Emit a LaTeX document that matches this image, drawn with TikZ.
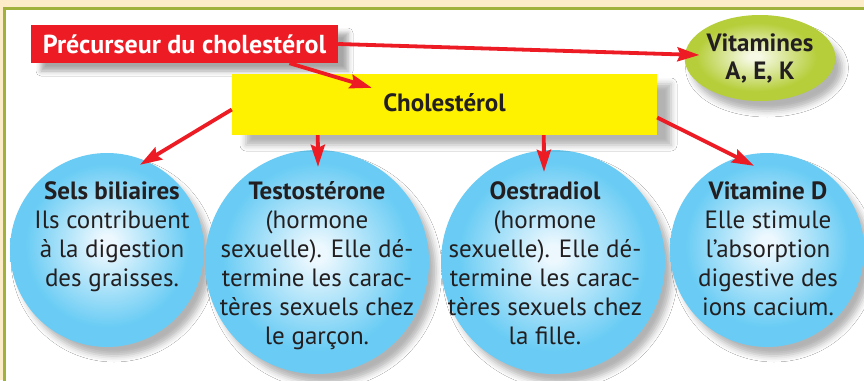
\documentclass[tikz,border=0pt]{standalone}
\usepackage{fontspec}
\setmainfont{PT Sans}
\usetikzlibrary{shapes.geometric,arrows.meta,calc,shadows.blur}
\definecolor{beigebg}{RGB}{253,236,200}
\definecolor{olivefr}{RGB}{160,178,60}
\definecolor{redc}{RGB}{237,28,36}
\definecolor{yellowc}{RGB}{255,242,0}
\definecolor{txtc}{RGB}{35,31,32}
\definecolor{bcen}{RGB}{236,248,254}
\definecolor{bedge}{RGB}{106,204,244}
\definecolor{gcen}{RGB}{246,249,228}
\definecolor{gedge}{RGB}{182,206,58}
\pgfdeclareradialshading{ballblue}{\pgfpoint{0bp}{2bp}}{color(0bp)=(bcen); color(2bp)=(bcen); color(21bp)=(bedge); color(50bp)=(bedge)}
\pgfdeclareradialshading{ballgreen}{\pgfpoint{-2bp}{1bp}}{color(0bp)=(gcen); color(2bp)=(gcen); color(20bp)=(gedge); color(50bp)=(gedge)}
\begin{document}
\begin{tikzpicture}[x=1pt,y=-1pt,
  txt/.style={font=\fontsize{25}{29}\selectfont, text=txtc, align=center, inner sep=0pt},
  boxshadow/.style={blur shadow={shadow xshift=10pt, shadow yshift=-8pt, shadow blur radius=5pt, shadow opacity=35}},
  ballshadow/.style={blur shadow={shadow xshift=7pt, shadow yshift=-9pt, shadow blur radius=6pt, shadow opacity=30}},
  ball/.style={circle, draw=none, shading=ballblue, ballshadow, inner sep=0pt},
  arr/.style={draw=redc, line width=3.8pt, -{Stealth[length=22pt,width=14pt,inset=3pt]}}]
\useasboundingbox (0,0) rectangle (864,380);
\fill[beigebg] (0,0) rectangle (864,380);
\draw[olivefr, fill=white, line width=2.5pt] (4.5,8.5) rectangle (880,400);

% balls
\node[ball, minimum size=194pt] (sels) at (107,250) {};
\node[ball, minimum size=224pt] (testo) at (317,262) {};
\node[ball, minimum size=224pt] (oestr) at (553,262) {};
\node[ball, minimum size=194pt] (vitd) at (767,250) {};

% boxes
\node[fill=redc, boxshadow, minimum width=307pt, minimum height=38pt, inner sep=0pt,
      text=white, font=\fontsize{26}{28}\selectfont\bfseries] (prec) at (184.5,44) {Précurseur du cholestérol};
\node[fill=yellowc, blur shadow={shadow xshift=14pt, shadow yshift=-10pt, shadow blur radius=6pt, shadow opacity=30},
      minimum width=425pt, minimum height=61pt, inner sep=0pt,
      text=txtc, font=\fontsize{25}{26}\selectfont\bfseries] (chol) at (444.5,104.5) {\raisebox{4pt}{Cholestérol}};
\node[ellipse, shading=ballgreen, blur shadow={shadow xshift=7pt, shadow yshift=-10pt, shadow blur radius=6pt, shadow opacity=30},
      minimum width=150pt, minimum height=86pt, inner sep=0pt, align=center,
      text=txtc, font=\fontsize{25}{28}\selectfont\bfseries] (vit) at (760,58) {Vitamines\\A, E, K};

% texts (anchor base = baseline of last line)
\node[txt, anchor=base] (tsels) at (112,286) {\textbf{Sels biliaires}\\Ils contribuent\\à la digestion\\des graisses.};
\node[txt, anchor=base] (ttesto) at (317,344) {\textbf{Testostérone}\\(hormone\\sexuelle). Elle dé-\\termine les carac-\\tères sexuels chez\\le garçon.};
\node[txt, anchor=base] (toestr) at (545,344) {\textbf{Oestradiol}\\(hormone\\sexuelle). Elle dé-\\termine les carac-\\tères sexuels chez\\la fille.};
\node[txt, anchor=base] (tvitd) at (768,315) {\textbf{Vitamine D}\\Elle stimule\\l’absorption\\digestive des\\ions cacium.};

% arrows
\draw[arr] (prec.east) -- ($(vit.west)+(15,-3)$);
\draw[arr] ($(prec.south)+(105,0)$) -- ($(chol.north west)+(140,14)$);
\draw[arr] ($(chol.west)+(0,5)$) -- ($(sels.north)+(33,12)$);
\draw[arr] ($(chol.south west)+(86,0)$) -- ($(testo.north)+(1,17)$);
\draw[arr] ($(chol.south west)+(312,0)$) -- ($(oestr.north)+(-9,22)$);
\draw[arr] ($(chol.east)+(0,13)$) -- ($(vitd.north)+(-13,13)$);
\end{tikzpicture}
\end{document}
